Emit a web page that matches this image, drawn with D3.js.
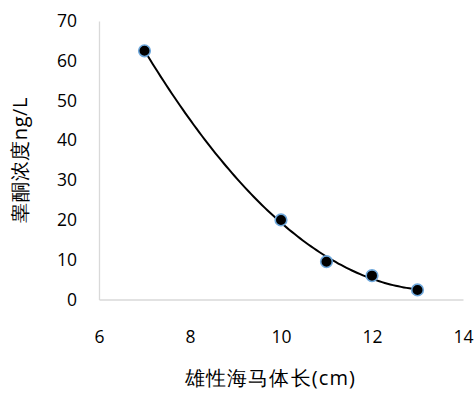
<!DOCTYPE html>
<html><head><meta charset="utf-8">
<script src="https://cdn.jsdelivr.net/npm/d3@7"></script>
<style>
body{margin:0;background:#fff;}
svg{display:block;}
text{font-family:"Open Sans","Noto Sans",sans-serif;}
</style></head>
<body><svg id="chart" width="476" height="394"></svg>
<script>
const lengthCm = [7, 10, 11, 12, 13];
const testosterone = [62.5, 20, 9.5, 6, 2.4];
const xTicks = [6, 8, 10, 12, 14];
const yTicks = [0, 10, 20, 30, 40, 50, 60, 70];
const xTitle = "雄性海马体长(cm)";
const yTitle = "睾酮浓度ng/L";

const svg = d3.select("#chart");
const x = d3.scaleLinear().domain([6, 14]).range([99, 463]);
const y = d3.scaleLinear().domain([0, 70]).range([299.5, 21]);

// axes
const gx = svg.append("g").attr("transform", `translate(0,${y(0)})`)
  .call(d3.axisBottom(x).tickValues(xTicks).tickSize(0).tickPadding(31).tickFormat(d3.format("d")));
const gy = svg.append("g").attr("transform", `translate(${x(6)},0)`)
  .call(d3.axisLeft(y).tickValues(yTicks).tickSize(0).tickPadding(22).tickFormat(d3.format("d")));
[gx, gy].forEach(g => {
  g.select(".domain").attr("stroke", "#d9d9d9").attr("stroke-width", 1.3);
  g.selectAll("text").attr("font-size", 17.5).attr("fill", "#000")
    .attr("font-family", "'Open Sans','Noto Sans',sans-serif");
});

// quadratic least-squares trendline
function polyfit2(xs, ys) {
  const n = xs.length;
  let s = Array(5).fill(0), t = Array(3).fill(0);
  for (let i = 0; i < n; i++) {
    for (let k = 0; k < 5; k++) s[k] += Math.pow(xs[i], k);
    for (let k = 0; k < 3; k++) t[k] += ys[i] * Math.pow(xs[i], k);
  }
  const A = [[s[0], s[1], s[2], t[0]], [s[1], s[2], s[3], t[1]], [s[2], s[3], s[4], t[2]]];
  for (let i = 0; i < 3; i++) {
    for (let j = i + 1; j < 3; j++) {
      const f = A[j][i] / A[i][i];
      for (let k = i; k < 4; k++) A[j][k] -= f * A[i][k];
    }
  }
  const c = [0, 0, 0];
  for (let i = 2; i >= 0; i--) {
    let v = A[i][3];
    for (let k = i + 1; k < 3; k++) v -= A[i][k] * c[k];
    c[i] = v / A[i][i];
  }
  return c;
}
const coef = polyfit2(lengthCm, testosterone);
const x0 = d3.min(lengthCm), x1 = d3.max(lengthCm);
const curvePts = d3.range(0, 101).map(i => {
  const xv = x0 + (x1 - x0) * i / 100;
  return [xv, coef[0] + coef[1] * xv + coef[2] * xv * xv];
});
svg.append("path").datum(curvePts)
  .attr("fill", "none").attr("stroke", "#000").attr("stroke-width", 2)
  .attr("d", d3.line().x(d => x(d[0])).y(d => y(d[1])));

// points
svg.append("g").selectAll("circle").data(lengthCm.map((v, i) => [v, testosterone[i]]))
  .join("circle")
  .attr("cx", d => x(d[0])).attr("cy", d => y(d[1])).attr("r", 5.8)
  .attr("fill", "#000").attr("stroke", "#6FA8DC").attr("stroke-width", 1.6);

// titles
svg.append("text").attr("x", 270).attr("y", 385).attr("text-anchor", "middle")
  .attr("font-size", 20).attr("fill", "#000")
  .attr("font-family", "'Noto Sans CJK SC',sans-serif")
  .attr("textLength", 170).attr("lengthAdjust", "spacing")
  .text(xTitle);
svg.append("text").attr("transform", "translate(27,160) rotate(-90)").attr("text-anchor", "middle")
  .attr("font-size", 20).attr("fill", "#000")
  .attr("font-family", "'Noto Sans CJK SC',sans-serif")
  .attr("textLength", 125).attr("lengthAdjust", "spacing")
  .text(yTitle);
</script></body></html>
